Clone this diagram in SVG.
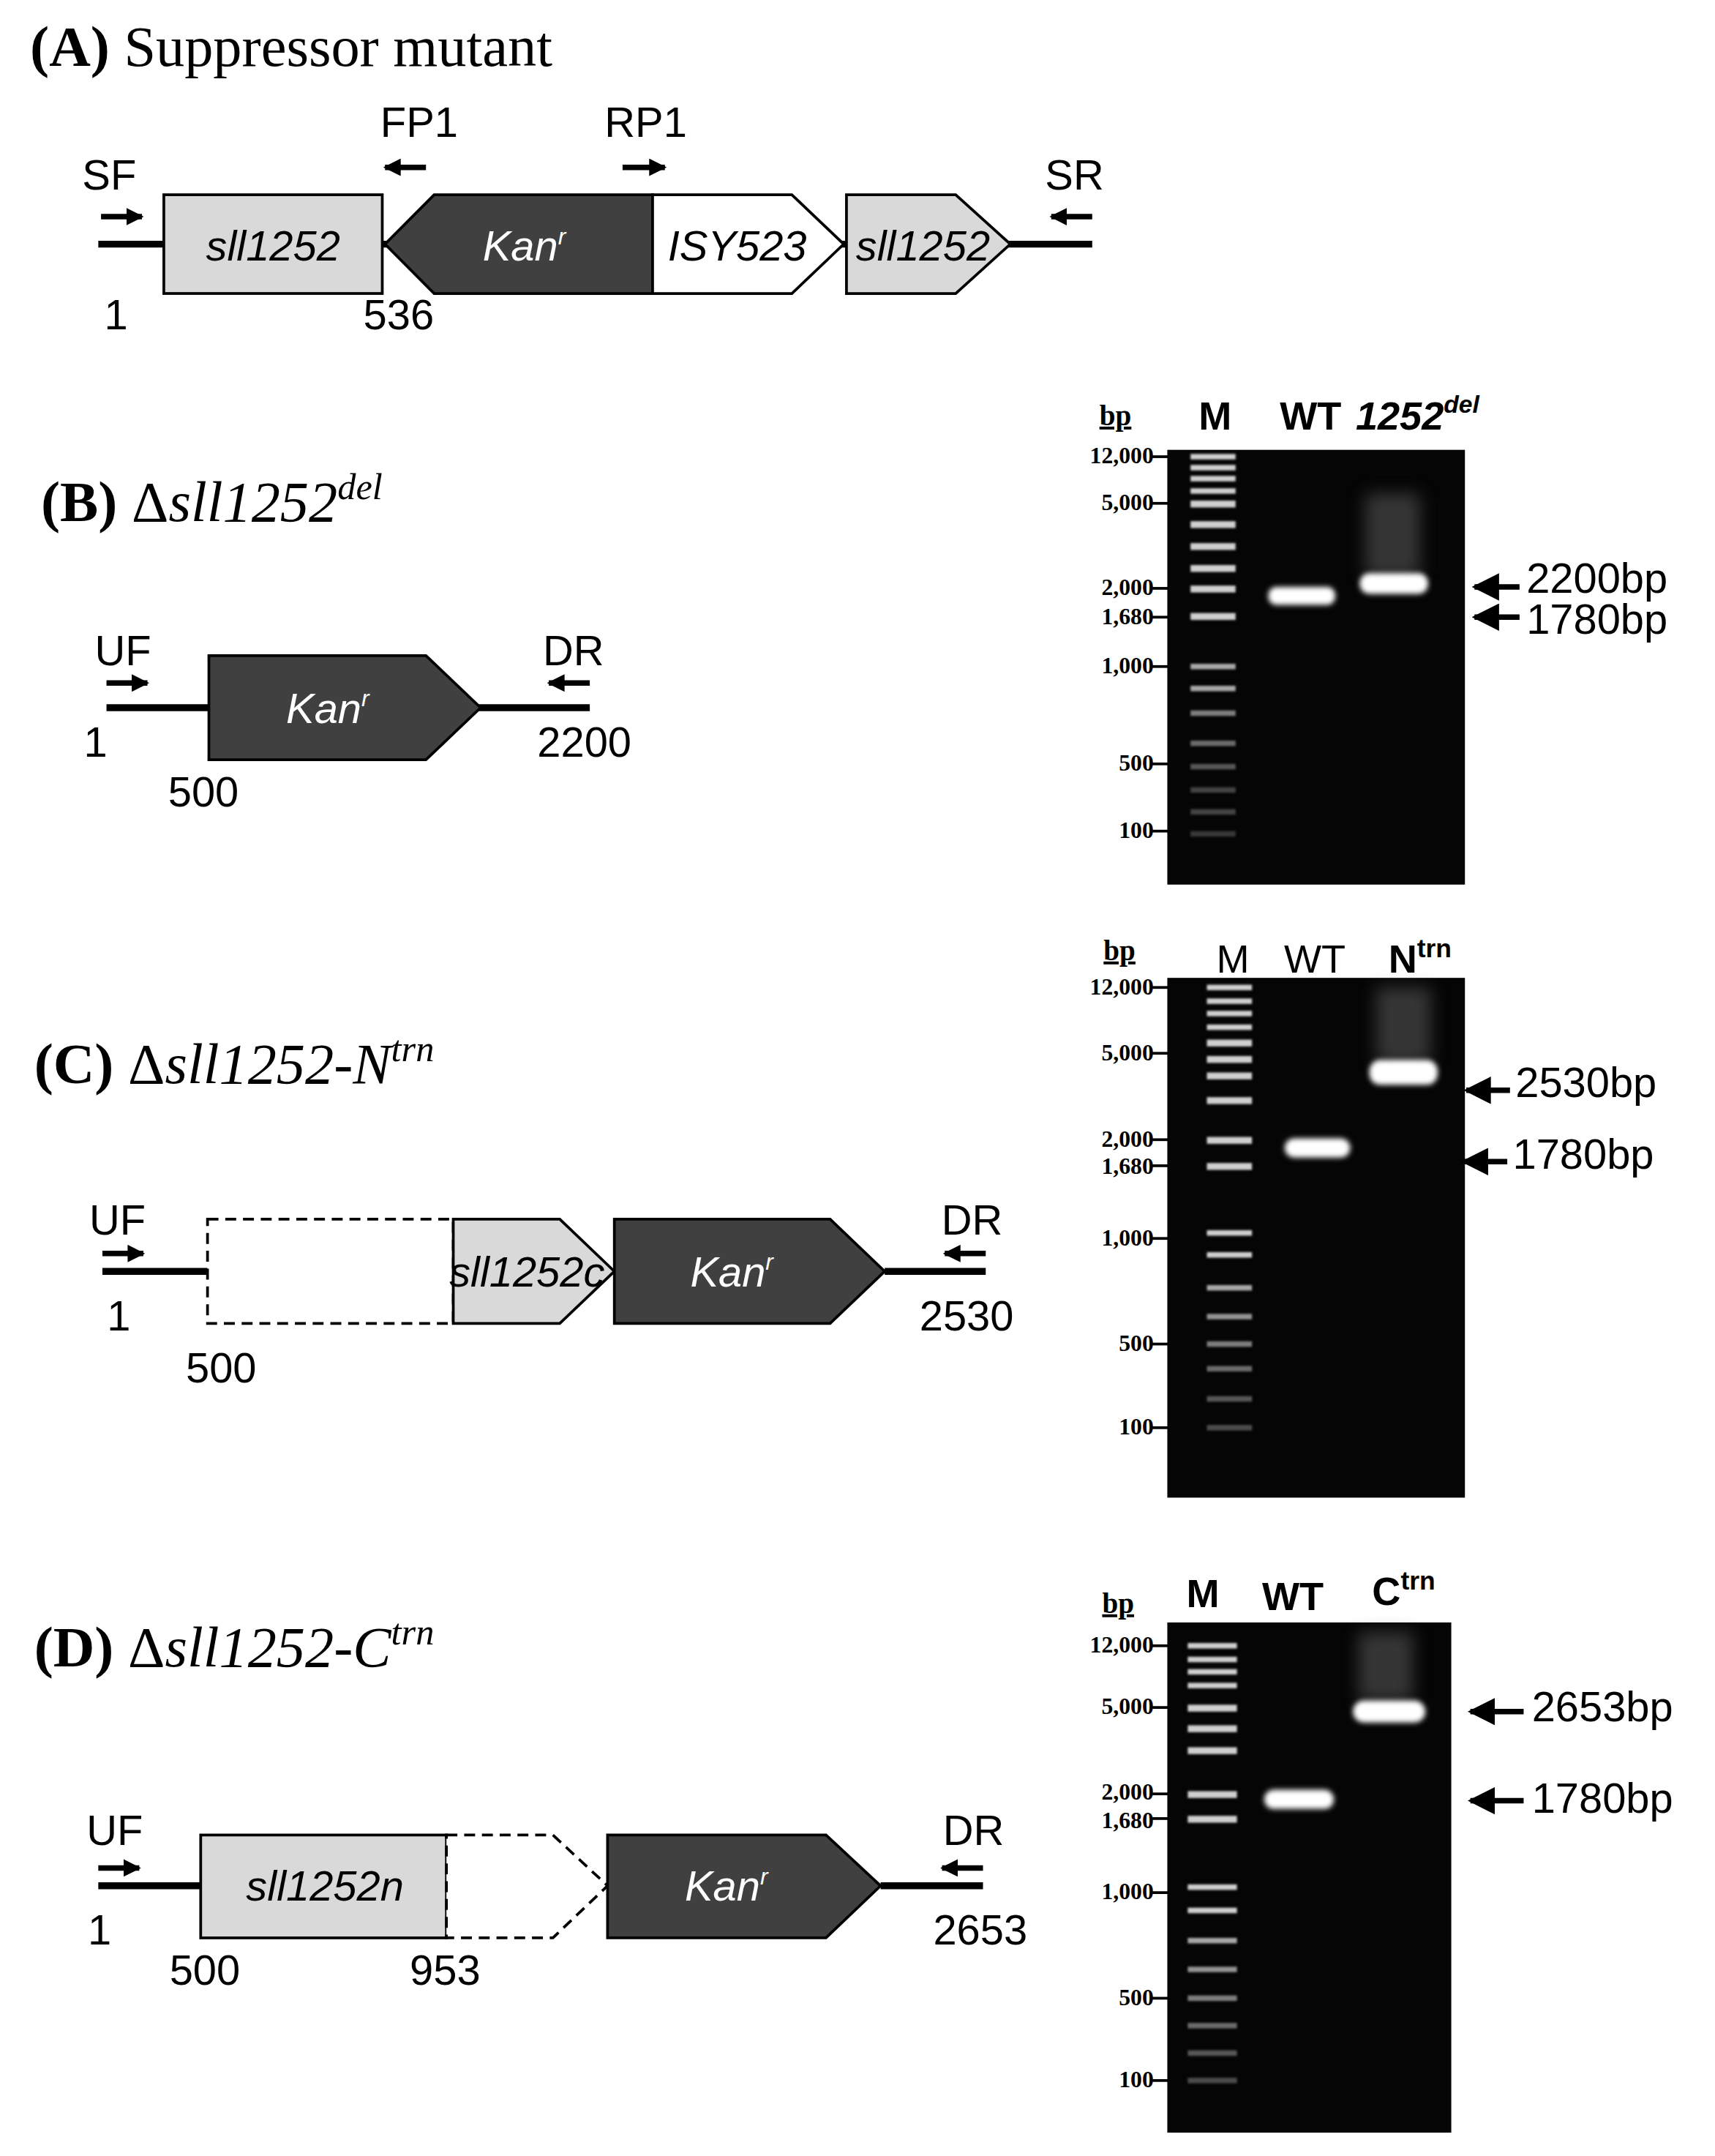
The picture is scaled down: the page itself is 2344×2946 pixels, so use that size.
<svg xmlns="http://www.w3.org/2000/svg" width="2344" height="2946" viewBox="0 0 2344 2946">
<style>
.t{font-family:"Liberation Serif",serif}
.s{font-family:"Liberation Sans",Arial,sans-serif}
.lbl{font-family:"Liberation Sans",Arial,sans-serif;font-size:31px}
.gl{font-family:"Liberation Serif",serif;font-weight:bold;font-size:17px;text-anchor:end}
.ln{stroke:#000;stroke-width:5;fill:none}
.gray{fill:#d9d9d9;stroke:#000;stroke-width:2}
.dark{fill:#404040;stroke:#000;stroke-width:2}
.white{fill:#fff;stroke:#000;stroke-width:2}
.dash{fill:#fff;stroke:#000;stroke-width:2;stroke-dasharray:8,5}
.tick{stroke:#000;stroke-width:2}
.gel{fill:#050505}
.lad{fill:#cfcfcf;filter:url(#b1)}
.band{fill:#fff;filter:url(#b2)}
.ar{stroke:#000;stroke-width:4}
</style>
<defs>
<filter id="b1" x="-20%" y="-100%" width="140%" height="300%"><feGaussianBlur stdDeviation="0.8"/></filter>
<filter id="b2" x="-30%" y="-100%" width="160%" height="300%"><feGaussianBlur stdDeviation="2"/></filter>
<filter id="b3" x="-50%" y="-50%" width="200%" height="200%"><feGaussianBlur stdDeviation="6"/></filter>
<marker id="ah" viewBox="0 0 10 10" refX="9" refY="5" markerWidth="3.2" markerHeight="3.2" orient="auto"><path d="M0,0L10,5L0,10z" fill="#000"/></marker>
<marker id="bh" viewBox="0 0 10 10" refX="9" refY="5" markerWidth="5" markerHeight="5" orient="auto"><path d="M0,0L10,5L0,10z" fill="#000"/></marker>
</defs>
<rect width="2344" height="2946" fill="#fff"/>
<g transform="scale(1.866,1.874)">
<!-- Panel A -->
<g id="panelA">
<text class="t" x="22" y="48" font-size="42"><tspan font-weight="bold">(A)</tspan> Suppressor  mutant</text>
<line class="ln" x1="72" y1="178" x2="800" y2="178"/>
<g id="A_sll1252_1"><rect class="gray" x="120" y="142" width="160" height="72"/><text class="lbl" x="200" y="190" text-anchor="middle" font-style="italic">sll1252</text></g>
<g id="A_kan"><polygon class="dark" points="282,178 318,142 478,142 478,214 318,214"/><text class="lbl" x="384" y="190" text-anchor="middle" font-style="italic" fill="#fff">Kan<tspan font-size="17" dy="-12">r</tspan></text></g>
<g id="A_isy"><polygon class="white" points="478,142 580,142 618,178 580,214 478,214"/><text class="lbl" x="540" y="190" text-anchor="middle" font-style="italic">ISY523</text></g>
<g id="A_sll1252_2"><polygon class="gray" points="620,142 700,142 740,178 700,214 620,214"/><text class="lbl" x="676" y="190" text-anchor="middle" font-style="italic">sll1252</text></g>
<text class="lbl" x="80" y="138" text-anchor="middle">SF</text>
<text class="lbl" x="307" y="100" text-anchor="middle">FP1</text>
<text class="lbl" x="473" y="100" text-anchor="middle">RP1</text>
<text class="lbl" x="787" y="138" text-anchor="middle">SR</text>
<text class="lbl" x="85" y="240" text-anchor="middle">1</text>
<text class="lbl" x="292" y="240" text-anchor="middle">536</text>
</g>
<!-- Panel B -->
<g id="panelB">
<text class="t" x="30" y="380" font-size="42"><tspan font-weight="bold">(B)</tspan> Δ<tspan font-style="italic">sll1252</tspan><tspan font-style="italic" font-size="27" dy="-16">del</tspan></text>
<line class="ln" x1="78" y1="516" x2="432" y2="516"/>
<g id="B_kan"><polygon class="dark" points="153,478 312,478 352,516 312,554 153,554"/><text class="lbl" x="240" y="527" text-anchor="middle" font-style="italic" fill="#fff">Kan<tspan font-size="17" dy="-12">r</tspan></text></g>
<text class="lbl" x="90" y="485" text-anchor="middle">UF</text>
<text class="lbl" x="420" y="485" text-anchor="middle">DR</text>
<text class="lbl" x="70" y="552" text-anchor="middle">1</text>
<text class="lbl" x="428" y="552" text-anchor="middle">2200</text>
<text class="lbl" x="149" y="588" text-anchor="middle">500</text>
</g>
<!-- Panel C -->
<g id="panelC">
<text class="t" x="25" y="790" font-size="42"><tspan font-weight="bold">(C)</tspan> Δ<tspan font-style="italic">sll1252-N</tspan><tspan font-style="italic" font-size="27" dy="-16">trn</tspan></text>
<line class="ln" x1="75" y1="927" x2="152" y2="927"/>
<line class="ln" x1="648" y1="927" x2="722" y2="927"/>
<g id="C_dash"><rect class="dash" x="152" y="889" width="180" height="76"/></g>
<g id="C_sllc"><polygon class="gray" points="332,889 410,889 450,927 410,965 332,965"/><text class="lbl" x="386" y="938" text-anchor="middle" font-style="italic">sll1252c</text></g>
<g id="C_kan"><polygon class="dark" points="450,889 608,889 648,927 608,965 450,965"/><text class="lbl" x="536" y="938" text-anchor="middle" font-style="italic" fill="#fff">Kan<tspan font-size="17" dy="-12">r</tspan></text></g>
<text class="lbl" x="86" y="900" text-anchor="middle">UF</text>
<text class="lbl" x="712" y="900" text-anchor="middle">DR</text>
<text class="lbl" x="87" y="970" text-anchor="middle">1</text>
<text class="lbl" x="708" y="970" text-anchor="middle">2530</text>
<text class="lbl" x="162" y="1008" text-anchor="middle">500</text>
</g>
<!-- Panel D -->
<g id="panelD">
<text class="t" x="25" y="1215" font-size="42"><tspan font-weight="bold">(D)</tspan> Δ<tspan font-style="italic">sll1252-C</tspan><tspan font-style="italic" font-size="27" dy="-16">trn</tspan></text>
<line class="ln" x1="72" y1="1375" x2="147" y2="1375"/>
<line class="ln" x1="645" y1="1375" x2="720" y2="1375"/>
<g id="D_slln"><rect class="gray" x="147" y="1338" width="180" height="75"/><text class="lbl" x="238" y="1386" text-anchor="middle" font-style="italic">sll1252n</text></g>
<g id="D_dash"><polygon class="dash" points="327,1338 405,1338 445,1375 405,1413 327,1413"/></g>
<g id="D_kan"><polygon class="dark" points="445,1338 605,1338 645,1375 605,1413 445,1413"/><text class="lbl" x="532" y="1386" text-anchor="middle" font-style="italic" fill="#fff">Kan<tspan font-size="17" dy="-12">r</tspan></text></g>
<text class="lbl" x="84" y="1345" text-anchor="middle">UF</text>
<text class="lbl" x="713" y="1345" text-anchor="middle">DR</text>
<text class="lbl" x="73" y="1418" text-anchor="middle">1</text>
<text class="lbl" x="718" y="1418" text-anchor="middle">2653</text>
<text class="lbl" x="150" y="1447" text-anchor="middle">500</text>
<text class="lbl" x="326" y="1447" text-anchor="middle">953</text>
</g>
<!-- Gel B -->
<g id="gelB">
<rect class="gel" x="855" y="328" width="218" height="317"/>
<text class="t" x="817" y="310" font-size="21" font-weight="bold" text-anchor="middle" text-decoration="underline">bp</text>
<text class="s" x="890" y="313" font-size="29" font-weight="bold" text-anchor="middle">M</text>
<text class="s" x="960" y="313" font-size="29" font-weight="bold" text-anchor="middle">WT</text>
<text class="s" x="993" y="313" font-size="29" font-weight="bold" font-style="italic">1252<tspan font-size="18" dy="-12">del</tspan></text>
<g class="gl"><text x="845" y="338">12,000</text><text x="845" y="372">5,000</text><text x="845" y="434">2,000</text><text x="845" y="455">1,680</text><text x="845" y="491">1,000</text><text x="845" y="562">500</text><text x="845" y="611">100</text></g>
<g class="tick"><line x1="843" y1="333" x2="856" y2="333"/><line x1="843" y1="367" x2="856" y2="367"/><line x1="843" y1="429" x2="856" y2="429"/><line x1="843" y1="450" x2="856" y2="450"/><line x1="843" y1="486" x2="856" y2="486"/><line x1="843" y1="557" x2="856" y2="557"/><line x1="843" y1="606" x2="856" y2="606"/></g>
<g class="lad"><rect x="872" y="331" width="33" height="4"/><rect x="872" y="339" width="33" height="4"/><rect x="872" y="347" width="33" height="4"/><rect x="872" y="356" width="33" height="4"/><rect x="872" y="365" width="33" height="5"/><rect x="872" y="380" width="33" height="5"/><rect x="872" y="396" width="33" height="5"/><rect x="872" y="412" width="33" height="5"/><rect x="872" y="427" width="33" height="5"/><rect x="872" y="447" width="33" height="5"/><rect x="872" y="484" width="33" height="4" opacity=".8"/><rect x="872" y="500" width="33" height="4" opacity=".8"/><rect x="872" y="518" width="33" height="4" opacity=".6"/><rect x="872" y="540" width="33" height="4" opacity=".5"/><rect x="872" y="557" width="33" height="4" opacity=".4"/><rect x="872" y="574" width="33" height="4" opacity=".3"/><rect x="872" y="590" width="33" height="4" opacity=".3"/><rect x="872" y="606" width="33" height="4" opacity=".25"/></g>
<rect x="1000" y="360" width="40" height="60" fill="#666" opacity=".5" filter="url(#b3)"/>
<rect class="band" x="929" y="428" width="49" height="13" rx="6"/>
<rect class="band" x="996" y="418" width="50" height="15" rx="7"/>
</g>
<!-- Gel C -->
<g id="gelC">
<rect class="gel" x="855" y="713" width="218" height="379"/>
<text class="t" x="820" y="700" font-size="21" font-weight="bold" text-anchor="middle" text-decoration="underline">bp</text>
<text class="s" x="903" y="709" font-size="29" text-anchor="middle">M</text>
<text class="s" x="963" y="709" font-size="29" text-anchor="middle">WT</text>
<text class="s" x="1017" y="709" font-size="29" font-weight="bold">N<tspan font-size="19" dy="-11">trn</tspan></text>
<g class="gl"><text x="845" y="725">12,000</text><text x="845" y="773">5,000</text><text x="845" y="836">2,000</text><text x="845" y="856">1,680</text><text x="845" y="908">1,000</text><text x="845" y="985">500</text><text x="845" y="1046">100</text></g>
<g class="tick"><line x1="843" y1="720" x2="856" y2="720"/><line x1="843" y1="768" x2="856" y2="768"/><line x1="843" y1="831" x2="856" y2="831"/><line x1="843" y1="850" x2="856" y2="850"/><line x1="843" y1="903" x2="856" y2="903"/><line x1="843" y1="980" x2="856" y2="980"/><line x1="843" y1="1041" x2="856" y2="1041"/></g>
<g class="lad"><rect x="884" y="718" width="33" height="4"/><rect x="884" y="728" width="33" height="4"/><rect x="884" y="737" width="33" height="4"/><rect x="884" y="747" width="33" height="4"/><rect x="884" y="758" width="33" height="5"/><rect x="884" y="770" width="33" height="5"/><rect x="884" y="782" width="33" height="5"/><rect x="884" y="800" width="33" height="5"/><rect x="884" y="829" width="33" height="5"/><rect x="884" y="848" width="33" height="5"/><rect x="884" y="897" width="33" height="4"/><rect x="884" y="913" width="33" height="4"/><rect x="884" y="937" width="33" height="4" opacity=".8"/><rect x="884" y="958" width="33" height="4" opacity=".7"/><rect x="884" y="978" width="33" height="4" opacity=".6"/><rect x="884" y="996" width="33" height="4" opacity=".5"/><rect x="884" y="1018" width="33" height="4" opacity=".4"/><rect x="884" y="1039" width="33" height="4" opacity=".35"/></g>
<rect x="1008" y="720" width="40" height="55" fill="#666" opacity=".5" filter="url(#b3)"/>
<rect class="band" x="941" y="830" width="48" height="14" rx="7"/>
<rect class="band" x="1003" y="773" width="50" height="18" rx="8"/>
</g>
<!-- Gel D -->
<g id="gelD">
<rect class="gel" x="855" y="1183" width="208" height="372"/>
<text class="t" x="819" y="1176" font-size="21" font-weight="bold" text-anchor="middle" text-decoration="underline">bp</text>
<text class="s" x="881" y="1172" font-size="29" font-weight="bold" text-anchor="middle">M</text>
<text class="s" x="947" y="1174" font-size="29" font-weight="bold" text-anchor="middle">WT</text>
<text class="s" x="1005" y="1170" font-size="29" font-weight="bold">C<tspan font-size="19" dy="-11">trn</tspan></text>
<g class="gl"><text x="845" y="1205">12,000</text><text x="845" y="1250">5,000</text><text x="845" y="1312">2,000</text><text x="845" y="1333">1,680</text><text x="845" y="1385">1,000</text><text x="845" y="1462">500</text><text x="845" y="1522">100</text></g>
<g class="tick"><line x1="843" y1="1200" x2="856" y2="1200"/><line x1="843" y1="1245" x2="856" y2="1245"/><line x1="843" y1="1308" x2="856" y2="1308"/><line x1="843" y1="1326" x2="856" y2="1326"/><line x1="843" y1="1380" x2="856" y2="1380"/><line x1="843" y1="1457" x2="856" y2="1457"/><line x1="843" y1="1517" x2="856" y2="1517"/></g>
<g class="lad"><rect x="870" y="1198" width="36" height="4"/><rect x="870" y="1208" width="36" height="4"/><rect x="870" y="1217" width="36" height="4"/><rect x="870" y="1227" width="36" height="4"/><rect x="870" y="1243" width="36" height="5"/><rect x="870" y="1258" width="36" height="5"/><rect x="870" y="1274" width="36" height="5"/><rect x="870" y="1306" width="36" height="5"/><rect x="870" y="1324" width="36" height="5"/><rect x="870" y="1374" width="36" height="4"/><rect x="870" y="1391" width="36" height="4"/><rect x="870" y="1413" width="36" height="4" opacity=".8"/><rect x="870" y="1434" width="36" height="4" opacity=".7"/><rect x="870" y="1455" width="36" height="4" opacity=".6"/><rect x="870" y="1475" width="36" height="4" opacity=".5"/><rect x="870" y="1495" width="36" height="4" opacity=".4"/><rect x="870" y="1515" width="36" height="4" opacity=".35"/></g>
<rect x="995" y="1190" width="40" height="50" fill="#666" opacity=".5" filter="url(#b3)"/>
<rect class="band" x="926" y="1305" width="51" height="14" rx="7"/>
<rect class="band" x="991" y="1240" width="53" height="16" rx="8"/>
</g>
<!-- Labels on gels -->
<g class="lbl">
<text x="1118" y="432">2200bp</text><text x="1118" y="462">1780bp</text>
<text x="1110" y="800">2530bp</text><text x="1108" y="852">1780bp</text>
<text x="1122" y="1255">2653bp</text><text x="1122" y="1322">1780bp</text>
</g>
</g>
<!-- Connectors: primer arrows and size arrows -->
<g id="connectors" transform="scale(1.866,1.874)">
<line class="ar" x1="74" y1="158" x2="104" y2="158" marker-end="url(#ah)"/>
<line class="ar" x1="312" y1="122" x2="282" y2="122" marker-end="url(#ah)"/>
<line class="ar" x1="456" y1="122" x2="487" y2="122" marker-end="url(#ah)"/>
<line class="ar" x1="800" y1="158" x2="770" y2="158" marker-end="url(#ah)"/>
<line class="ar" x1="78" y1="498" x2="108" y2="498" marker-end="url(#ah)"/>
<line class="ar" x1="432" y1="498" x2="402" y2="498" marker-end="url(#ah)"/>
<line class="ar" x1="75" y1="914" x2="105" y2="914" marker-end="url(#ah)"/>
<line class="ar" x1="722" y1="914" x2="692" y2="914" marker-end="url(#ah)"/>
<line class="ar" x1="72" y1="1362" x2="102" y2="1362" marker-end="url(#ah)"/>
<line class="ar" x1="720" y1="1362" x2="690" y2="1362" marker-end="url(#ah)"/>
<line class="ar" stroke-width="3" x1="1113" y1="428" x2="1080" y2="428" marker-end="url(#bh)"/>
<line class="ar" stroke-width="3" x1="1113" y1="450" x2="1080" y2="450" marker-end="url(#bh)"/>
<line class="ar" stroke-width="3" x1="1106" y1="795" x2="1074" y2="795" marker-end="url(#bh)"/>
<line class="ar" stroke-width="3" x1="1104" y1="847" x2="1072" y2="847" marker-end="url(#bh)"/>
<line class="ar" stroke-width="3" x1="1116" y1="1248" x2="1077" y2="1248" marker-end="url(#bh)"/>
<line class="ar" stroke-width="3" x1="1116" y1="1313" x2="1077" y2="1313" marker-end="url(#bh)"/>
</g>
</svg>
